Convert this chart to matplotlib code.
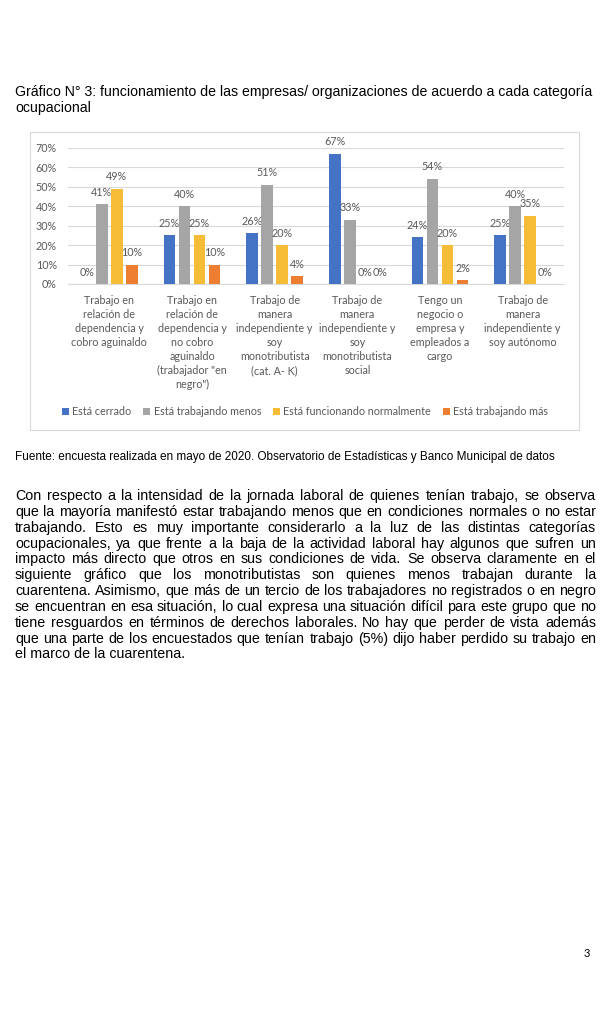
import numpy as np
import matplotlib
matplotlib.use('Agg')
import matplotlib.pyplot as plt
import matplotlib.transforms as mtransforms
from matplotlib.patches import Rectangle

W, H = 602, 1024

# datos del gráfico
categorias = [
    'Trabajo en\nrelación de\ndependencia y\ncobro aguinaldo',
    'Trabajo en\nrelación de\ndependencia y\nno cobro\naguinaldo\n(trabajador "en\nnegro")',
    'Trabajo de\nmanera\nindependiente y\nsoy\nmonotributista\n(cat. A- K)',
    'Trabajo de\nmanera\nindependiente y\nsoy\nmonotributista\nsocial',
    'Tengo un\nnegocio o\nempresa y\nempleados a\ncargo',
    'Trabajo de\nmanera\nindependiente y\nsoy autónomo',
]
series = ['Está cerrado', 'Está trabajando menos', 'Está funcionando normalmente', 'Está trabajando más']
cerrado = [0, 25, 26, 67, 24, 25]
trabajando_menos = [41, 40, 51, 33, 54, 40]
normal = [49, 25, 20, 0, 20, 35]
trabajando_mas = [10, 10, 4, 0, 2, 0]
valores = [cerrado, trabajando_menos, normal, trabajando_mas]
yticks = [0, 10, 20, 30, 40, 50, 60, 70]
colores = ['#4472C4', '#A5A5A5', '#F6BC35', '#ED7D31']

titulo = ['Gráfico N° 3: funcionamiento de las empresas/ organizaciones de acuerdo a cada categoría',
          'ocupacional']
fuente = 'Fuente: encuesta realizada en mayo de 2020. Observatorio de Estadísticas y Banco Municipal de datos'
parrafo = [
    'Con respecto a la intensidad de la jornada laboral de quienes tenían trabajo, se observa',
    'que la mayoría manifestó estar trabajando menos que en condiciones normales o no estar',
    'trabajando. Esto es muy importante considerarlo a la luz de las distintas categorías',
    'ocupacionales, ya que frente a la baja de la actividad laboral hay algunos que sufren un',
    'impacto más directo que otros en sus condiciones de vida. Se observa claramente en el',
    'siguiente gráfico que los monotributistas son quienes menos trabajan durante la',
    'cuarentena. Asimismo, que más de un tercio de los trabajadores no registrados o en negro',
    'se encuentran en esa situación, lo cual expresa una situación difícil para este grupo que no',
    'tiene resguardos en términos de derechos laborales. No hay que perder de vista además',
    'que una parte de los encuestados que tenían trabajo (5%) dijo haber perdido su trabajo en',
    'el marco de la cuarentena.',
]

ARIAL = 'Liberation Sans'
CALIBRI = 'Lato'
GRIS = '#595959'

fig = plt.figure(figsize=(W / 100, H / 100), dpi=100)
renderer = fig.canvas.get_renderer()


def fx(x):
    return x / W


def fy(y):
    return 1 - y / H


def ancho(s, size, family):
    t = fig.text(0, 0, s, fontsize=size, family=family)
    w = t.get_window_extent(renderer).width
    t.remove()
    return w


def ajustar(s, objetivo, family):
    return 10 * objetivo / ancho(s, 10, family)


# título
t_size = ajustar(titulo[0], 579, ARIAL)
fig.text(fx(15), fy(96), titulo[0], fontsize=t_size, family=ARIAL, va='baseline')
fig.text(fx(15), fy(112), titulo[1], fontsize=t_size, family=ARIAL, va='baseline')

# marco del gráfico
fig.patches.append(Rectangle((fx(30), fy(430)), fx(579) - fx(30), fy(132) - fy(430),
                             transform=fig.transFigure, fill=False, edgecolor='#D9D9D9', lw=0.8))

c_size = ajustar('Está cerrado', 59, CALIBRI)

ax = fig.add_axes([fx(68), fy(284), (564 - 68) / W, (284 - 147.7) / H])
x = np.arange(len(categorias))
for i, (vals, nombre, col) in enumerate(zip(valores, series, colores)):
    pos = x + (i - 1.5) * 0.1815
    ax.bar(pos, vals, 0.141, color=col, label=nombre, zorder=3)
    for p, v in zip(pos, vals):
        ax.annotate(f'{v}%', (p, v), xytext=(0, 8.6), textcoords='offset points',
                    ha='center', va='center', fontsize=c_size, family=CALIBRI,
                    color=GRIS, annotation_clip=False)

ax.set_xlim(-0.5, len(categorias) - 0.5)
ax.set_ylim(0, 70)
ax.set_yticks(yticks)
ax.set_yticklabels([f'{v}%' for v in yticks], family=CALIBRI)
ax.set_xticks([])
ax.tick_params(axis='y', length=0, pad=8, labelsize=c_size, labelcolor=GRIS)
ax.grid(axis='y', color='#D9D9D9', lw=0.8, zorder=0)
for s in ['top', 'left', 'right']:
    ax.spines[s].set_visible(False)
ax.spines['bottom'].set_color('#D9D9D9')
ax.spines['bottom'].set_linewidth(0.8)

# etiquetas de categorías
trans = mtransforms.blended_transform_factory(ax.transData, fig.transFigure)
for i, cat in enumerate(categorias):
    for k, linea in enumerate(cat.split('\n')):
        ax.text(i, fy(303.5 + k * 14.07), linea, transform=trans, ha='center', va='baseline',
                fontsize=c_size, family=CALIBRI, color=GRIS)

fig.legend(*ax.get_legend_handles_labels(), ncol=4, loc='center',
           bbox_to_anchor=(fx(305), fy(411.7)), frameon=False,
           handlelength=0.65, handleheight=0.65, handletextpad=0.3, columnspacing=1.1,
           prop={'family': CALIBRI, 'size': c_size}, labelcolor=GRIS, borderpad=0)

# fuente
f_size = ajustar(fuente, 539, ARIAL)
fig.text(fx(15), fy(460), fuente, fontsize=f_size, family=ARIAL, va='baseline')

# párrafo justificado
p_size = ajustar(parrafo[-1], 169, ARIAL)
izq, der = 15, 596
for n, linea in enumerate(parrafo):
    base = 500 + n * 15.85
    if n == len(parrafo) - 1:
        fig.text(fx(izq), fy(base), linea, fontsize=p_size, family=ARIAL, va='baseline')
        continue
    palabras = linea.split(' ')
    anchos = [ancho(p, p_size, ARIAL) for p in palabras]
    hueco = (der - izq - sum(anchos)) / (len(palabras) - 1)
    xpos = izq
    for p, w in zip(palabras, anchos):
        fig.text(fx(xpos), fy(base), p, fontsize=p_size, family=ARIAL, va='baseline')
        xpos += w + hueco

# número de página
fig.text(fx(590), fy(957), '3', fontsize=8, family=CALIBRI, ha='right', va='baseline')

fig.savefig('out.png', dpi=100)
